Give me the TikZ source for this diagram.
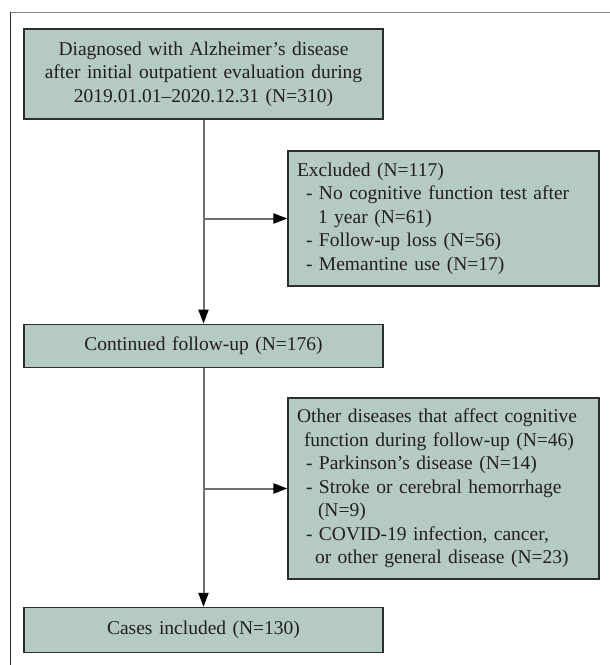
\documentclass[tikz,border=0pt]{standalone}
\usepackage{fontspec}
\setmainfont{Liberation Serif}
\usetikzlibrary{arrows.meta, positioning}
\definecolor{boxfill}{HTML}{B5CAC1}
\definecolor{boxline}{HTML}{2E2E2E}
\definecolor{flowline}{HTML}{6F6F6F}
\definecolor{boxtext}{HTML}{231F20}
\definecolor{framegray}{HTML}{8A8A8A}
\tikzstyle{flowchart}=[x=1pt, y=-1pt, >={Triangle[length=14pt,width=10pt,black]}]
\tikzstyle{mainbox}=[draw=boxline, fill=boxfill, line width=1.2pt, text=boxtext,
  font=\fontsize{19.5}{23.5}\selectfont, inner xsep=9pt, inner ysep=0pt,
  text width=341pt, align=center]
\tikzstyle{sidebox}=[mainbox, text width=293pt, align=left]
\tikzstyle{flow}=[draw=flowline, line width=2pt, ->]

\begin{document}
\begin{tikzpicture}[flowchart]
            \useasboundingbox (0,0) rectangle (610,665);
            \draw[framegray, line width=1pt] (10,12) -- (610,12);
            \draw[boxline, line width=1pt] (10,12) -- (10,665);

            \node[mainbox, minimum height=90pt] (diag) at (203.5,74)
              {Diagnosed with Alzheimer’s disease\\
               after initial outpatient evaluation during\\
               2019.01.01--2020.12.31 (N=310)};
            \node[mainbox, minimum height=43pt] (cont) [below=204pt of diag]
              {Continued follow-up (N=176)};
            \node[mainbox, minimum height=45pt] (incl) [below=239pt of cont]
              {Cases included (N=130)};

            \node[sidebox, minimum height=135pt] (excl) at (443.5,218.5)
              {Excluded (N=117)\\
               \hspace*{9pt}- No cognitive function test after\\
               \hspace*{21pt}1 year (N=61)\\
               \hspace*{9pt}- Follow-up loss (N=56)\\
               \hspace*{9pt}- Memantine use (N=17)};
            \node[sidebox, minimum height=181pt] (other) at (443.5,488.5)
              {Other diseases that affect cognitive\\
               \hspace*{7pt}function during follow-up (N=46)\\
               \hspace*{9pt}- Parkinson’s disease (N=14)\\
               \hspace*{9pt}- Stroke or cerebral hemorrhage\\
               \hspace*{21pt}(N=9)\\
               \hspace*{9pt}- COVID-19 infection, cancer,\\
               \hspace*{18pt}or other general disease (N=23)};

            \coordinate (split1) at (diag.south |- excl.west);
            \coordinate (split2) at (cont.south |- other.west);

            \path
              (diag)   edge[flow] (cont)
              (cont)   edge[flow] (incl)
              (split1) edge[flow] (excl)
              (split2) edge[flow] (other);
          \end{tikzpicture}
\end{document}
